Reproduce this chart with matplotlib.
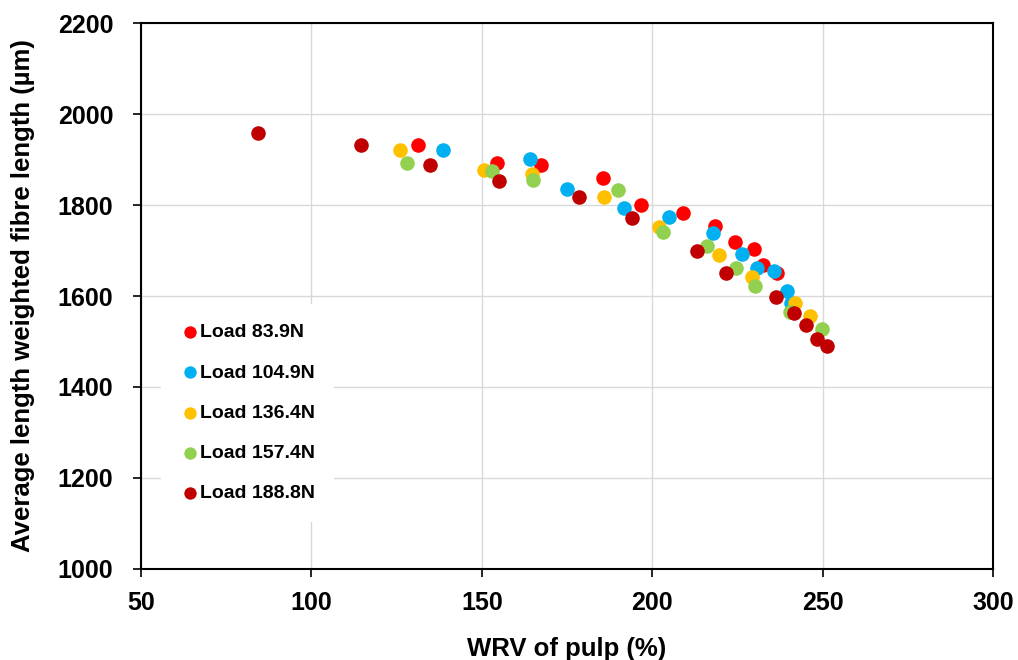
import matplotlib
matplotlib.use("Agg")
import matplotlib.pyplot as plt

plt.rcParams['font.family'] = ['Liberation Sans', 'DejaVu Sans']
plt.rcParams['font.weight'] = 'bold'

labels = ["Load 83.9N", "Load 104.9N", "Load 136.4N", "Load 157.4N", "Load 188.8N"]
colors = ["#FF0000", "#00B0F0", "#FFC000", "#92D050", "#C00000"]

x_839 = [131.3, 154.5, 167.4, 185.6, 196.7, 209.0, 218.4, 224.3, 229.9, 232.5, 236.6]
y_839 = [1932, 1892, 1888, 1859, 1800, 1782, 1754, 1719, 1703, 1668, 1651]

x_1049 = [138.6, 164.1, 175.0, 191.7, 204.9, 217.8, 226.4, 230.8, 235.7, 239.6, 240.7]
y_1049 = [1921, 1901, 1835, 1793, 1774, 1738, 1692, 1662, 1655, 1611, 1584]

x_1364 = [126.0, 150.6, 164.7, 185.9, 202.0, 219.6, 229.3, 241.9, 246.3]
y_1364 = [1921, 1877, 1868, 1818, 1752, 1690, 1642, 1585, 1556]

x_1574 = [128.0, 153.0, 165.0, 190.0, 203.2, 216.1, 224.6, 230.2, 240.4, 249.8]
y_1574 = [1892, 1875, 1855, 1833, 1741, 1710, 1662, 1622, 1565, 1527]

x_1888 = [84.3, 114.6, 134.8, 155.0, 178.5, 194.1, 213.1, 221.7, 236.3, 241.6, 245.1, 248.4, 251.3]
y_1888 = [1958, 1932, 1888, 1853, 1818, 1771, 1699, 1651, 1598, 1563, 1536, 1505, 1490]

xs = [x_839, x_1049, x_1364, x_1574, x_1888]
ys = [y_839, y_1049, y_1364, y_1574, y_1888]

xticks = [50, 100, 150, 200, 250, 300]
yticks = [1000, 1200, 1400, 1600, 1800, 2000, 2200]

fig = plt.figure(figsize=(10.18, 6.6), dpi=100)
ax = fig.add_axes([0.1385, 0.138, 0.8369, 0.827])

for x, y, c, l in zip(xs, ys, colors, labels):
    ax.scatter(x, y, s=110, color=c, label=l, linewidths=0, zorder=3)

ax.set_xlim(50, 300)
ax.set_ylim(1000, 2200)
ax.set_xticks(xticks)
ax.set_yticks(yticks)
ax.grid(True, color='#D9D9D9', linewidth=1.0, zorder=0)
ax.set_axisbelow(True)
for s in ax.spines.values():
    s.set_linewidth(1.5)
    s.set_color('black')
ax.tick_params(axis='both', direction='out', length=6, width=1.2, labelsize=18)
ax.tick_params(axis='x', pad=10)
ax.tick_params(axis='y', pad=14)
for t in ax.get_xticklabels() + ax.get_yticklabels():
    t.set_fontweight('bold')

ax.set_xlabel("WRV of pulp (%)", fontsize=18.5, fontweight='bold', labelpad=16)
ax.set_ylabel("Average length weighted fibre length (\u00b5m)", fontsize=18.5, fontweight='bold', labelpad=16)

leg = ax.legend(loc='lower left', bbox_to_anchor=(0.012, 0.069), frameon=True,
                prop={'family': 'Liberation Sans', 'weight': 'bold', 'size': 14},
                labelspacing=1.16, handletextpad=0.0, handlelength=1.0,
                borderpad=1.0, markerscale=0.85)
leg.get_frame().set_edgecolor('white')
leg.get_frame().set_facecolor('white')
leg.get_frame().set_alpha(1.0)
leg.get_frame().set_linewidth(0)

fig.savefig("out.png", dpi=100)
